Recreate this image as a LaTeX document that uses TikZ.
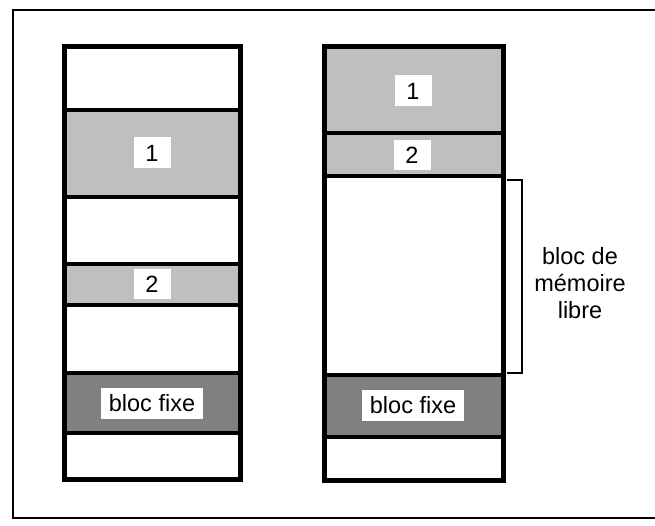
\documentclass[tikz,border=0pt]{standalone}
\usepackage{fontspec}
\setmainfont{Liberation Sans}
\begin{document}
\begin{tikzpicture}[x=1pt,y=-1pt,
  colborder/.style={line width=5pt},
  divider/.style={line width=4.5pt},
  lightfill/.style={fill=black!25},
  darkfill/.style={fill=black!50},
  lab/.style={fill=white, inner xsep=8pt, inner ysep=3pt, minimum height=31pt, font=\fontsize{23.5}{26}\selectfont},
  numlab/.style={lab, minimum width=37pt},
  side/.style={align=center, font=\fontsize{23.5}{27}\selectfont}]
\useasboundingbox (0,0) rectangle (655,526);
% frame
\draw[line width=2.2pt] (655,10) -- (13,10) -- (13,518) -- (655,518);
% left column fills
\fill[lightfill] (64,110) rectangle (240,197);
\fill[lightfill] (64,264) rectangle (240,305);
\fill[darkfill] (64,373) rectangle (240,433);
% right column fills
\fill[lightfill] (324,47) rectangle (503,176);
\fill[darkfill] (324,375) rectangle (503,437);
% dividers
\foreach \y in {110,197,264,305,373,433} \draw[divider] (64,\y) -- (240,\y);
\foreach \y in {133,176,375,437} \draw[divider] (324,\y) -- (503,\y);
% columns
\draw[colborder] (64,47) rectangle (240,479);
\draw[colborder] (324,47) rectangle (503,480);
% labels
\node[numlab] (l1) at (152,153) {1};
\node[numlab, minimum height=30pt] (l2) at (152,284) {2};
\node[lab] (lf) at (152,403) {bloc fixe};
\node[numlab] (r1) at (413,91) {1};
\node[numlab, minimum height=30pt] (r2) at (412,155) {2};
\node[lab] (rf) at (413,405) {bloc fixe};
% bracket
\coordinate (bt) at (507,180);
\coordinate (bb) at (507,373);
\draw[line width=2.2pt] (bt) -- ++(15,0) |- (bb);
\node[side] (free) at (580,283) {bloc de\\mémoire\\libre};
\end{tikzpicture}
\end{document}
